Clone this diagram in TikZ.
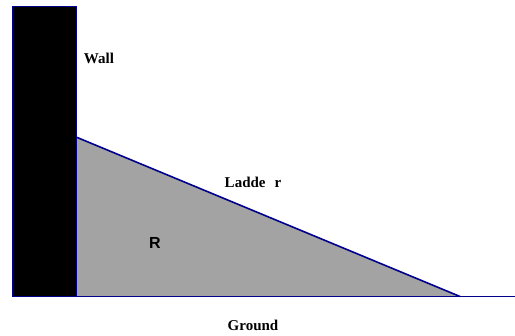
\documentclass[tikz,border=0pt]{standalone}
\usepackage{fontspec}
\setmainfont{Liberation Serif}
\setsansfont{Liberation Sans}
\begin{document}
\begin{tikzpicture}[x=1pt,y=-1pt,
  lbl/.style={font=\bfseries\fontsize{15}{17}\selectfont,inner sep=0pt}]
\useasboundingbox (0,0) rectangle (515,336);
\definecolor{fillgray}{RGB}{163,163,163}
\definecolor{navy}{RGB}{0,0,140}
% ladder region
\fill[fillgray] (76,137) -- (460,296.5) -- (76,296.5) -- cycle;
\draw[navy,line width=1.6pt] (76,137) -- (460,296.5);
% wall
\filldraw[fill=black,draw=navy,line width=1pt] (12,7) rectangle (76,297);
% ground
\draw[navy,line width=1.6pt] (12,296.5) -- (515,296.5);
\node[lbl] (wall) at (99,58) {Wall};
\node[lbl] (ladder) at (253,182) {Ladde\hspace{0.6em}r};
\node[inner sep=0pt,font=\sffamily\bfseries\fontsize{16}{18}\selectfont] (r) at (155,243) {R};
\node[lbl] (ground) at (253,325) {Ground};
\end{tikzpicture}
\end{document}
